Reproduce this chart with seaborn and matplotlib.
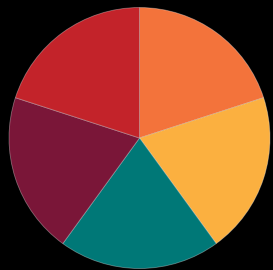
"""
Five-slice pie chart on a black background.
"""

import matplotlib
matplotlib.use("Agg")
import matplotlib.pyplot as plt
import seaborn as sns

# slice data, clockwise from 12 o'clock
labels = ["Orange", "Yellow", "Teal", "Maroon", "Red"]
shares = [20, 20, 20, 20, 20]
colors = ["#F3733B", "#FBB040", "#007877", "#7A1638", "#C3232A"]

sns.set_theme(style="white", rc={
    "figure.facecolor": "black",
    "axes.facecolor": "black",
})

fig = plt.figure(figsize=(2.73, 2.70), dpi=100)
# pie centre ~ (139.5, 138) px from top-left, radius ~130.5 px
ax = fig.add_axes([9 / 273, 1.5 / 270, 261 / 273, 261 / 270])

ax.pie(
    shares,
    colors=sns.color_palette(colors),
    startangle=90,
    counterclock=False,
    radius=1.0,
    wedgeprops={"edgecolor": (1, 1, 1, 0.35), "linewidth": 0.6},
)
ax.set_xlim(-1, 1)
ax.set_ylim(-1, 1)
ax.set_aspect("equal")
ax.axis("off")

plt.savefig("out.png", dpi=100, facecolor="black")
plt.close()
